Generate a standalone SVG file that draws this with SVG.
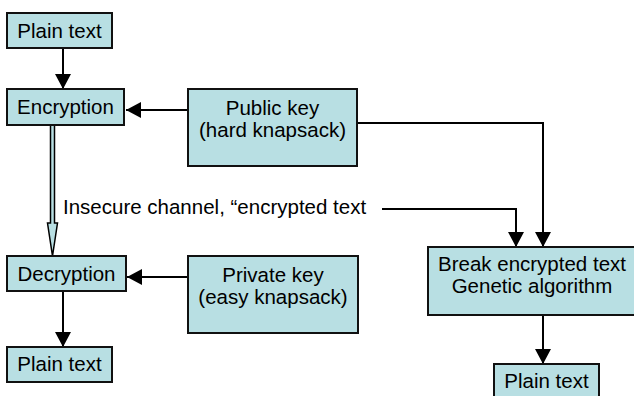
<svg xmlns="http://www.w3.org/2000/svg" width="634" height="396" viewBox="0 0 634 396">
<style>
.box{fill:#b8dfe3;stroke:#111;stroke-width:2}
.t{font-family:"Liberation Sans",Arial,sans-serif;font-size:20.5px;fill:#000;text-anchor:middle}
.c{fill:none;stroke:#000;stroke-width:2}
</style>
<defs>
<marker id="ah" markerUnits="userSpaceOnUse" markerWidth="16" markerHeight="16" refX="15" refY="8" orient="auto">
<path d="M0,0 L15,8 L0,16 z" fill="#000"/>
</marker>
</defs>
<rect width="634" height="396" fill="#fff"/>
<g id="connectors">
<line class="c" x1="63" y1="48" x2="63" y2="89" marker-end="url(#ah)"/>
<line class="c" x1="188" y1="110" x2="126" y2="110" marker-end="url(#ah)"/>
<polygon points="50.5,125 54.5,125 54.5,223 57.5,223 52.5,256 47.5,223 50.5,223" fill="#b8dfe3" stroke="#000" stroke-width="1.5"/>
<line class="c" x1="188" y1="277" x2="127" y2="277" marker-end="url(#ah)"/>
<line class="c" x1="63" y1="291" x2="63" y2="347" marker-end="url(#ah)"/>
<polyline class="c" points="382,209 516,209 516,247" marker-end="url(#ah)"/>
<polyline class="c" points="357,123 543,123 543,247" marker-end="url(#ah)"/>
<line class="c" x1="543" y1="315" x2="543" y2="364" marker-end="url(#ah)"/>
</g>
<g id="plain1"><rect class="box" x="7" y="13" width="105" height="35"/><text class="t" x="59.5" y="38">Plain text</text></g>
<g id="encryption"><rect class="box" x="7" y="89" width="117" height="36"/><text class="t" x="65.5" y="114">Encryption</text></g>
<g id="publickey"><rect class="box" x="188" y="89" width="169" height="77"/><text class="t" x="272.5" y="115">Public key</text><text class="t" x="272.5" y="136.5">(hard knapsack)</text></g>
<text class="t" x="63" y="214" style="text-anchor:start">Insecure channel, “encrypted text</text>
<g id="decryption"><rect class="box" x="7" y="256" width="119" height="35"/><text class="t" x="66.5" y="281">Decryption</text></g>
<g id="privatekey"><rect class="box" x="188" y="256" width="170" height="77"/><text class="t" x="273" y="282">Private key</text><text class="t" x="273" y="303.5">(easy knapsack)</text></g>
<g id="plain2"><rect class="box" x="7" y="347" width="105" height="35"/><text class="t" x="59.5" y="371">Plain text</text></g>
<g id="break"><rect class="box" x="428" y="247" width="208" height="68"/><text class="t" x="532" y="271">Break encrypted text</text><text class="t" x="532" y="292.5">Genetic algorithm</text></g>
<g id="plain3"><rect class="box" x="494" y="364" width="105" height="35"/><text class="t" x="546.5" y="388">Plain text</text></g>
</svg>
